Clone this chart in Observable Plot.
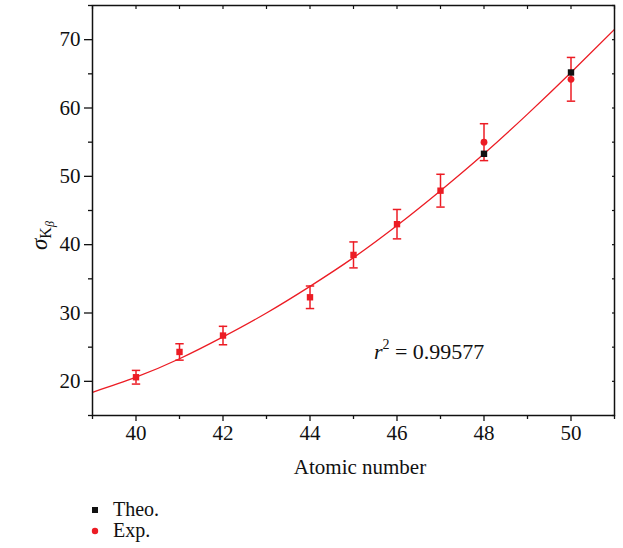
<!DOCTYPE html>
<html>
<head>
<meta charset="utf-8">
<script src="https://cdn.jsdelivr.net/npm/d3@7"></script>
<script src="https://cdn.jsdelivr.net/npm/@observablehq/plot@0.6"></script>
<style>
  body { margin: 0; background: #fff; }
  #wrap { position: relative; width: 623px; height: 548px; font-family: "Liberation Serif", serif; }
  #legend { position: absolute; left: 91px; top: 499px; font-size: 20px; line-height: 21px; color: #111; }
  #legend .row { display: flex; align-items: center; }
  #legend .sym { width: 22px; display: inline-flex; justify-content: flex-start; align-items: center; }
</style>
</head>
<body>
<div id="wrap"><div id="chart"></div>
<div id="legend">
  <div class="row"><span class="sym"><svg width="8" height="8"><rect x="1" y="1" width="6" height="6" fill="#111"/></svg></span>Theo.</div>
  <div class="row"><span class="sym"><svg width="8" height="8"><circle cx="4" cy="4" r="3.2" fill="#ec1c24"/></svg></span>Exp.</div>
</div>
</div>
<script>
// Data
const atomicNumber = [40, 41, 42, 44, 45, 46, 47, 48, 50];
const theoValues   = [20.6, 24.3, 26.7, 32.3, 38.5, 43.0, 47.9, 53.3, 65.2];
const expValues    = [20.6, 24.3, 26.7, 32.3, 38.5, 43.0, 47.9, 55.0, 64.2];
const expErrors    = [1.0, 1.2, 1.35, 1.65, 1.9, 2.15, 2.4, 2.7, 3.2];
const fitZ         = [39, 40, 41, 42, 43, 44, 45, 46, 47, 48, 49, 50, 51];
const fitValues    = [18.4, 20.6, 23.3, 26.5, 30.0, 33.9, 38.1, 42.8, 47.9, 53.3, 59.1, 65.2, 71.5];
const xMajorTicks  = [40, 42, 44, 46, 48, 50];
const xMinorTicks  = [39, 41, 43, 45, 47, 49, 51];
const yMajorTicks  = [20, 30, 40, 50, 60, 70];
const yMinorTicks  = [15, 25, 35, 45, 55, 65, 75];
const r2Label      = "0.99577";

const RED = "#ec1c24";
const FS = 21;
const points = atomicNumber.map((z, i) => ({
  z, theo: theoValues[i], exp: expValues[i], err: expErrors[i],
  same: Math.abs(theoValues[i] - expValues[i]) < 0.05
}));
const fit = fitZ.map((z, i) => ({z, y: fitValues[i]}));

const capSymbol = {
  draw(ctx, size) { const w = 4.2; ctx.moveTo(-w, 0); ctx.lineTo(w, 0); }
};

const chart = Plot.plot({
  width: 623,
  height: 490,
  marginLeft: 92,
  marginRight: 9,
  marginTop: 5,
  marginBottom: 75,
  style: {fontFamily: "'Liberation Serif', serif", fontSize: FS + "px", color: "#111", background: "#fff"},
  x: {domain: [39, 51]},
  y: {domain: [15, 75]},
  marks: [
    Plot.line(fit, {x: "z", y: "y", stroke: RED, strokeWidth: 1.3, curve: "natural", clip: true}),
    Plot.ruleX(points, {x: "z", y1: d => d.exp - d.err, y2: d => d.exp + d.err, stroke: RED, strokeWidth: 1.5}),
    Plot.dot(points, {x: "z", y: d => d.exp - d.err, symbol: capSymbol, stroke: RED, strokeWidth: 1.5, r: 4}),
    Plot.dot(points, {x: "z", y: d => d.exp + d.err, symbol: capSymbol, stroke: RED, strokeWidth: 1.5, r: 4}),
    Plot.dot(points, {x: "z", y: "theo", symbol: "square", fill: d => d.same ? RED : "#111", r: 3.6}),
    Plot.dot(points.filter(d => !d.same), {x: "z", y: "exp", symbol: "circle", fill: RED, r: 3.4}),
    Plot.frame({stroke: "#111", strokeWidth: 1.5}),
    Plot.axisX({ticks: xMajorTicks, tickSize: 6, tickPadding: 4, tickFormat: d => String(d), fontSize: FS, label: null, strokeWidth: 1.3}),
    Plot.axisX({ticks: xMinorTicks, tickSize: 4, text: null, label: null, strokeWidth: 1.3}),
    Plot.axisX({anchor: "top", ticks: xMajorTicks.concat(xMinorTicks), tickSize: -3, text: null, label: null, strokeWidth: 1.2}),
    Plot.axisY({ticks: yMajorTicks, tickSize: 8, tickPadding: 4, tickFormat: d => String(d), fontSize: FS, label: null, strokeWidth: 1.3}),
    Plot.axisY({ticks: yMinorTicks, tickSize: 4, text: null, label: null, strokeWidth: 1.3}),
    Plot.axisY({anchor: "right", ticks: yMajorTicks.concat(yMinorTicks), tickSize: -3, text: null, label: null, strokeWidth: 1.2})
  ]
});

document.getElementById("chart").appendChild(chart);

const svg = d3.select(chart);
const sx = chart.scale("x"), sy = chart.scale("y");

// x axis label
svg.append("text")
  .attr("x", 360)
  .attr("y", 474)
  .attr("text-anchor", "middle")
  .attr("font-size", FS)
  .attr("fill", "#111")
  .text("Atomic number");

// y axis label σ_{K_β}
const yl = svg.append("text")
  .attr("transform", `translate(47, 250) rotate(-90)`)
  .attr("text-anchor", "start")
  .attr("fill", "#111");
yl.append("tspan").attr("font-size", 23).attr("font-style", "italic").text("σ");
yl.append("tspan").attr("font-size", 16).attr("dy", 4).text("K");
yl.append("tspan").attr("font-size", 12).attr("font-style", "italic").attr("dy", 3).text("β");

// r^2 annotation
const rt = svg.append("text")
  .attr("x", sx.apply(45.48))
  .attr("y", sy.apply(23.2))
  .attr("text-anchor", "start")
  .attr("fill", "#111")
  .attr("font-size", 22);
rt.append("tspan").attr("font-style", "italic").text("r");
rt.append("tspan").attr("font-size", 14).attr("dy", -10).text("2");
rt.append("tspan").attr("dy", 10).text(" = " + r2Label);
</script>
</body>
</html>
